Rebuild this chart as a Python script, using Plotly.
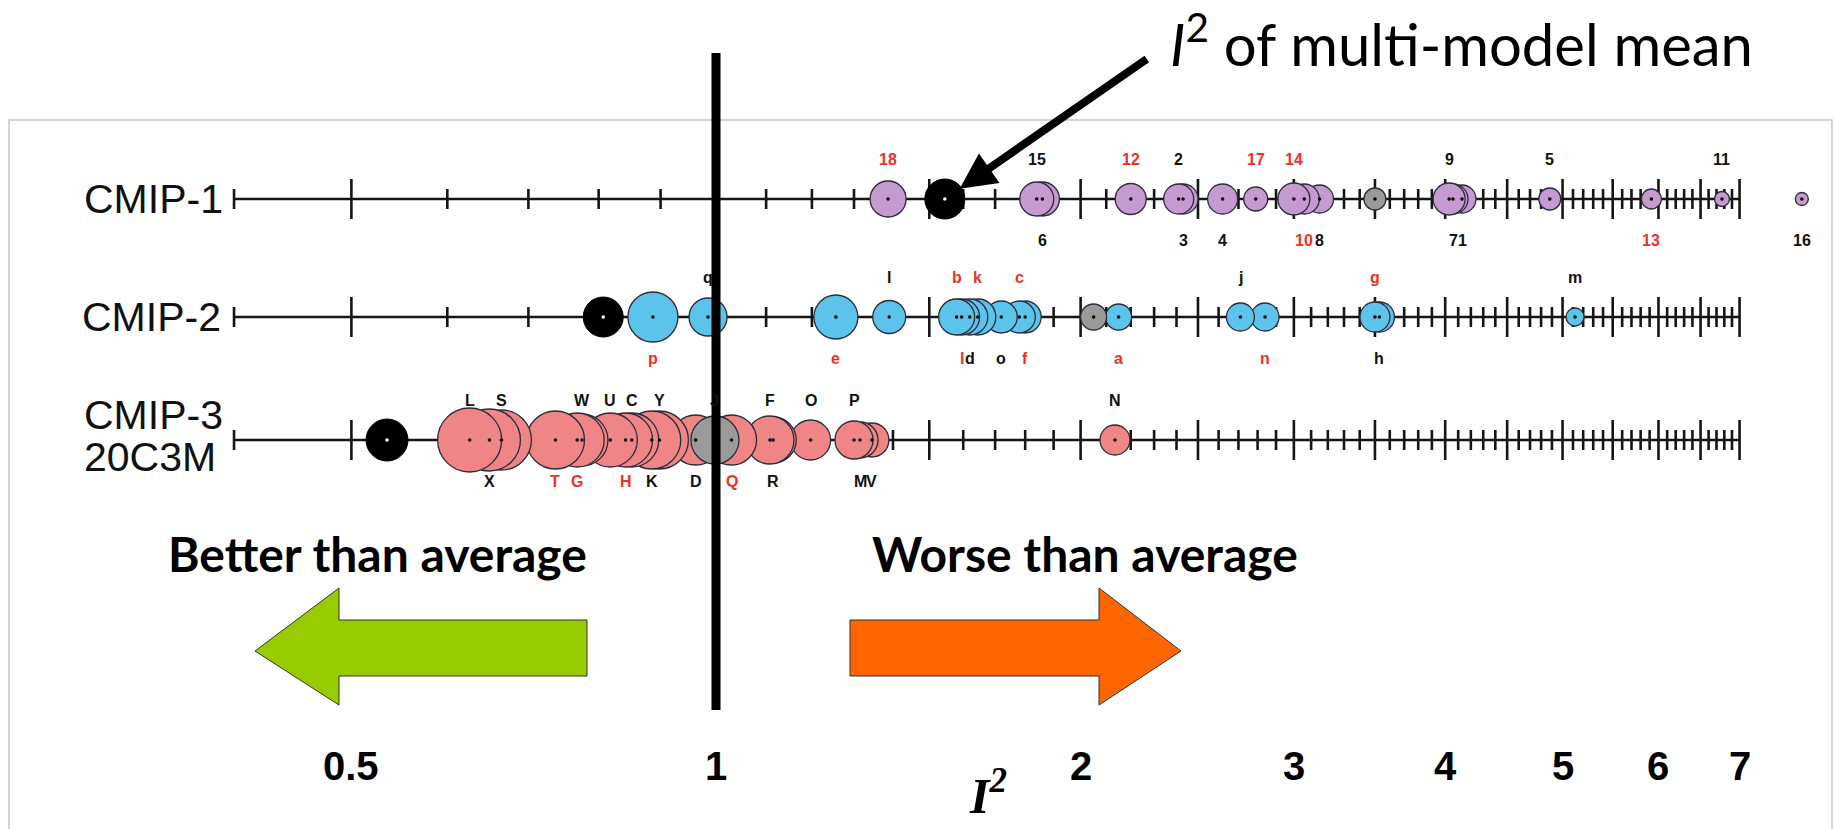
import numpy as np
import plotly.graph_objects as go

W, H = 1834, 829

# ---------------- data (I^2 values) ----------------
row_names = ["CMIP-1", "CMIP-2", "CMIP-3"]

c1_vals = [1.387, 1.84, 1.86, 2.20, 2.41, 2.43, 2.62, 2.79, 3.00, 3.06, 3.15, 4.03, 4.06, 4.13, 4.88, 5.92, 6.77, 7.88]
c1_labels = ["18", "15", "6", "12", "2", "3", "4", "17", "14", "10", "8", "9", "7", "1", "5", "13", "11", "16"]
c1_above = [1, 1, 0, 1, 1, 0, 0, 1, 1, 0, 0, 1, 0, 0, 1, 0, 1, 0]
c1_red = [1, 0, 0, 1, 0, 0, 0, 1, 1, 1, 0, 0, 0, 0, 0, 1, 0, 0]
c1_size = [36, 34, 34, 31, 30, 30, 30, 24, 32, 30, 28, 32, 30, 28, 22, 20, 15, 13]
c1_mean, c1_mean_size = 1.545, 40
c1_grey, c1_grey_size, c1_grey_label = 3.50, 22, ""

c2_vals = [0.887, 0.985, 1.256, 1.39, 1.58, 1.595, 1.62, 1.645, 1.72, 1.78, 1.80, 2.15, 2.71, 2.84, 3.50, 3.53, 5.12]
c2_labels = ["p", "q", "e", "l", "b", "l", "d", "k", "o", "c", "f", "a", "j", "n", "g", "h", "m"]
c2_above = [0, 1, 0, 1, 1, 0, 0, 1, 0, 1, 0, 0, 1, 0, 1, 0, 1]
c2_red = [1, 0, 1, 0, 1, 1, 0, 1, 0, 1, 1, 1, 0, 1, 1, 0, 0]
c2_size = [50, 38, 44, 33, 36, 36, 36, 36, 32, 32, 32, 26, 28, 28, 30, 30, 18]
c2_mean, c2_mean_size = 0.807, 40
c2_grey, c2_grey_size, c2_grey_label = 2.05, 26, ""

c3_vals = [0.626, 0.650, 0.665, 0.737, 0.768, 0.775, 0.818, 0.842, 0.852, 0.885, 0.898, 0.962, 1.03, 1.108, 1.115, 1.197, 1.30, 1.315, 1.345, 2.135]
c3_labels = ["L", "X", "S", "T", "G", "W", "U", "H", "C", "K", "Y", "D", "Q", "F", "R", "O", "P", "M", "V", "N"]
c3_above = [1, 0, 1, 0, 0, 1, 1, 0, 1, 0, 1, 0, 0, 1, 0, 1, 1, 0, 0, 1]
c3_red = [0, 0, 0, 1, 1, 0, 0, 1, 0, 0, 0, 0, 1, 0, 0, 0, 0, 0, 0, 0]
c3_size = [64, 62, 60, 58, 54, 52, 54, 54, 54, 58, 58, 50, 50, 48, 46, 40, 38, 36, 34, 30]
c3_mean, c3_mean_size = 0.535, 42
c3_grey, c3_grey_size, c3_grey_label = 0.998, 48, "J"

axis_min, axis_max = 0.4, 7.0
tick_labels = ["0.5", "1", "2", "3", "4", "5", "6", "7"]
tick_label_vals = [0.5, 1, 2, 3, 4, 5, 6, 7]

# ---------------- styling / layout ----------------
RED = "#EE3124"
fills = ["#C49AD0", "#5CC3EA", "#F08585"]
GREY = "#9A9A9A"
OUTLINE = "#2B2B3B"
row_y = [199, 317, 440]

X_ONE_PX = 716.0
PX_PER_DEC = 526.0 * np.log(10)
xrange = [-X_ONE_PX / PX_PER_DEC, (W - X_ONE_PX) / PX_PER_DEC]

fig = go.Figure()
annotations = []

rows = [
    (c1_vals, c1_labels, c1_above, c1_red, c1_size, c1_mean, c1_mean_size, c1_grey, c1_grey_size, c1_grey_label),
    (c2_vals, c2_labels, c2_above, c2_red, c2_size, c2_mean, c2_mean_size, c2_grey, c2_grey_size, c2_grey_label),
    (c3_vals, c3_labels, c3_above, c3_red, c3_size, c3_mean, c3_mean_size, c3_grey, c3_grey_size, c3_grey_label),
]

tick_vals = [round(t / 10, 1) for t in range(int(axis_min * 10), int(axis_max * 10) + 1)]
label_font = "Liberation Sans, Arial"

for r, (vals, labels, above, red, sizes, mval, msize, gval, gsize, glabel) in enumerate(rows):
    y0 = row_y[r]
    # axis line
    fig.add_trace(go.Scatter(x=[axis_min, axis_max], y=[y0, y0], mode="lines",
                             line=dict(color="#151515", width=2.6), hoverinfo="skip"))
    tx, ty = [], []
    for v in tick_vals:
        h = 20 if int(round(v * 10)) % 5 == 0 else 10
        tx += [v, v, None]
        ty += [y0 - h, y0 + h, None]
    fig.add_trace(go.Scatter(x=tx, y=ty, mode="lines",
                             line=dict(color="#151515", width=2.6), hoverinfo="skip"))
    # coloured circles: right-most drawn first so left ones are on top
    order = sorted(range(len(vals)), key=lambda i: -vals[i])
    fig.add_trace(go.Scatter(
        x=[vals[i] for i in order], y=[y0] * len(vals), mode="markers",
        marker=dict(size=[sizes[i] for i in order], color=fills[r], opacity=1,
                    line=dict(color=OUTLINE, width=1.3)),
        hoverinfo="skip"))
    # grey circle
    fig.add_trace(go.Scatter(x=[gval], y=[y0], mode="markers",
                             marker=dict(size=gsize, color=GREY, opacity=1,
                                         line=dict(color=OUTLINE, width=1.3)),
                             hoverinfo="skip"))
    # multi-model mean
    fig.add_trace(go.Scatter(x=[mval], y=[y0], mode="markers",
                             marker=dict(size=msize, color="black", opacity=1,
                                         line=dict(color="black", width=1)),
                             hoverinfo="skip"))
    # centre dots
    fig.add_trace(go.Scatter(x=list(vals) + [gval], y=[y0] * (len(vals) + 1), mode="markers",
                             marker=dict(size=3.5, color="black", opacity=1), hoverinfo="skip"))
    fig.add_trace(go.Scatter(x=[mval], y=[y0], mode="markers",
                             marker=dict(size=3.5, color="white", opacity=1), hoverinfo="skip"))
    # labels
    for v, lab, ab, rd in zip(vals, labels, above, red):
        annotations.append(dict(x=np.log10(v), y=y0 + (-40 if ab else 41), xref="x", yref="y",
                                text=lab, showarrow=False, xanchor="center",
                                font=dict(family=label_font, size=16,
                                          color=RED if rd else "#111111", weight="bold")))
    if glabel:
        annotations.append(dict(x=np.log10(gval), y=y0 - 40, xref="x", yref="y", text=glabel,
                                showarrow=False, xanchor="center",
                                font=dict(family=label_font, size=16, color="#111111", weight="bold")))

# vertical reference bar at I^2 = 1
fig.add_trace(go.Scatter(x=[1, 1], y=[53, 710], mode="lines",
                         line=dict(color="black", width=9), hoverinfo="skip"))

# row names
row_font = dict(family=label_font, size=41, color="#111111")
annotations.append(dict(x=82 / W, y=row_y[0], xref="paper", yref="y", text=row_names[0],
                        xanchor="left", showarrow=False, font=row_font))
annotations.append(dict(x=80 / W, y=row_y[1], xref="paper", yref="y", text=row_names[1],
                        xanchor="left", showarrow=False, font=row_font))
annotations.append(dict(x=82 / W, y=415, xref="paper", yref="y", text=row_names[2],
                        xanchor="left", showarrow=False, font=row_font))
annotations.append(dict(x=82 / W, y=457, xref="paper", yref="y", text="20C3M",
                        xanchor="left", showarrow=False, font=row_font))

# bottom scale labels
for v, t in zip(tick_label_vals, tick_labels):
    annotations.append(dict(x=np.log10(v), y=766, xref="x", yref="y", text=t, showarrow=False,
                            xanchor="center",
                            font=dict(family=label_font, size=40, color="black", weight="bold")))
annotations.append(dict(x=988 / W, y=792, xref="paper", yref="y", text="<b><i>I<sup>2</sup></i></b>",
                        showarrow=False, xanchor="center",
                        font=dict(family="Liberation Serif, Times New Roman", size=50, color="black")))

# top callout
annotations.append(dict(x=1168 / W, y=40, xref="paper", yref="y", xanchor="left", yanchor="middle",
                        text="<i>I</i><sup>2</sup> of multi-model mean", showarrow=False,
                        font=dict(family="Lato, Open Sans", size=58, color="black")))
annotations.append(dict(x=np.log10(c1_mean), y=row_y[0], xref="x", yref="y", text=" ",
                        showarrow=True, ax=205, ay=-142, arrowhead=2, arrowsize=0.9,
                        arrowwidth=8, arrowcolor="black", standoff=18))

# better / worse
bw_font = dict(family="Lato, Open Sans", size=48, color="black", weight="bold")
annotations.append(dict(x=377 / W, y=553, xref="paper", yref="y", text="Better than average",
                        showarrow=False, xanchor="center", font=bw_font))
annotations.append(dict(x=1085 / W, y=553, xref="paper", yref="y", text="Worse than average",
                        showarrow=False, xanchor="center", font=bw_font))


def px_path(pts):
    return "M " + " L ".join(f"{x / W:.5f},{y:.1f}" for x, y in pts) + " Z"


green_pts = [(255, 651), (339, 588), (339, 620), (587, 620), (587, 676), (339, 676), (339, 705)]
orange_pts = [(1181, 651), (1099, 588), (1099, 620), (850, 620), (850, 676), (1099, 676), (1099, 705)]

shapes = [
    dict(type="rect", xref="paper", yref="y", x0=9 / W, x1=1832 / W, y0=120, y1=H + 10,
         line=dict(color="#C8C8C8", width=1.5), fillcolor="rgba(0,0,0,0)", layer="below"),
    dict(type="path", xref="paper", yref="y", path=px_path(green_pts), fillcolor="#99CC00",
         line=dict(color="#333333", width=1)),
    dict(type="path", xref="paper", yref="y", path=px_path(orange_pts), fillcolor="#FF6600",
         line=dict(color="#333333", width=1)),
]

fig.update_layout(
    width=W, height=H, margin=dict(l=0, r=0, t=0, b=0),
    paper_bgcolor="white", plot_bgcolor="white", showlegend=False,
    xaxis=dict(type="log", range=xrange, visible=False, fixedrange=True),
    yaxis=dict(range=[H, 0], visible=False, fixedrange=True),
    annotations=annotations, shapes=shapes,
)

fig.write_html("out.html", config={"displayModeBar": False},
               post_script="document.body.style.margin='0';document.body.style.overflow='hidden';")
